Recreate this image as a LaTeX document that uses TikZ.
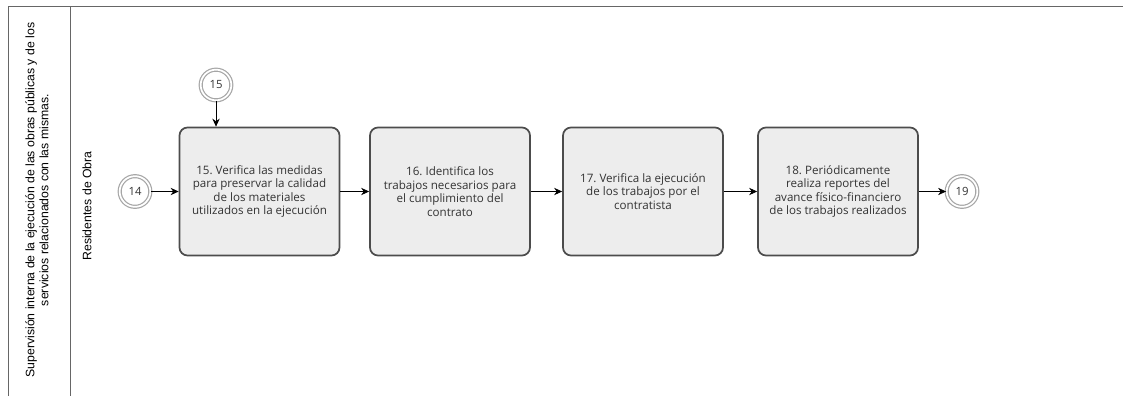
\documentclass[tikz,border=0pt]{standalone}
\usepackage{fontspec}
\setmainfont{Open Sans}
\newfontfamily\lanefont{Liberation Sans}
\usetikzlibrary{arrows.meta, calc}
\frenchspacing

\tikzset{
  activity/.style={draw=black!70, line width=1.3pt, fill=black!7, rounded corners=6pt,
    minimum width=120pt, minimum height=96pt, align=center,
    font=\fontsize{8.7}{10.2}\selectfont, text=black!80},
  event/.style={circle, draw=black!35, double=white, double distance=1.3pt, line width=0.9pt,
    fill=white, minimum size=23pt, inner sep=0pt, font=\fontsize{8.5}{9}\selectfont, text=black!80},
  flow/.style={-{Stealth[length=6pt,width=5.5pt]}, line width=0.6pt},
  lane/.style={draw=black!60, line width=0.7pt},
}

\begin{document}
\begin{tikzpicture}[x=0.75pt, y=-0.75pt]
        \useasboundingbox (0,0) rectangle (1123,396);

        % Carriles
        \draw[lane] (8,396) -- (8,6) -- (1123,6);
        \draw[lane] (70,6) -- (70,396);
        \node[rotate=90, align=center, font=\lanefont\fontsize{9.2}{10.5}\selectfont] (pool) at (37,200)
            {Supervisión interna de la ejecución de las obras públicas y de los\\servicios relacionados con las mismas.};
        \node[rotate=90, font=\lanefont\fontsize{9.2}{10.5}\selectfont] (residentes) at (87,206) {Residentes de Obra};

        % Actividades
        \node[activity] (a15) at (259.5,191.5) {15. Verifica las medidas\\para preservar la calidad\\de los materiales\\utilizados en la ejecución};
        \node[activity] (a16) at (450,191.5) {16. Identifica los\\trabajos necesarios para\\el cumplimiento del\\contrato};
        \node[activity] (a17) at (643,191.5) {17. Verifica la ejecución\\de los trabajos por el\\contratista};
        \node[activity] (a18) at (838,191.5) {18. Periódicamente\\realiza reportes del\\avance físico-financiero\\de los trabajos realizados};

        % Eventos
        \node[event] (e14) at (135,191.5) {14};
        \node[event] (e15) at (216,85) {15};
        \node[event] (e19) at (962,191.5) {19};

        % Flujos
        \draw[flow] (e14) -- (a15);
        \draw[flow] (e15) -- (e15 |- a15.north);
        \draw[flow] (a15) -- (a16);
        \draw[flow] (a16) -- (a17);
        \draw[flow] (a17) -- (a18);
        \draw[flow] (a18) -- (e19);
\end{tikzpicture}
\end{document}
